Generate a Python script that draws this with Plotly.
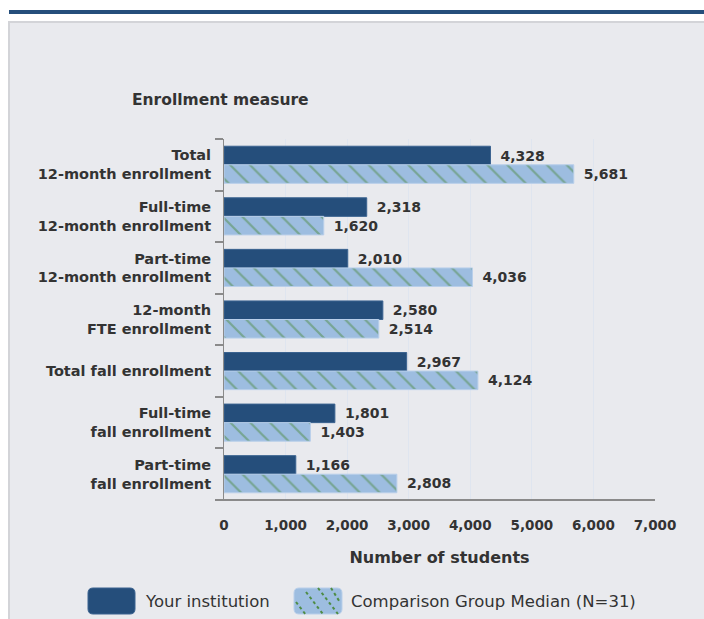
import plotly.graph_objects as go

# data
categories = [
    'Total<br>12-month enrollment',
    'Full-time<br>12-month enrollment',
    'Part-time<br>12-month enrollment',
    '12-month<br>FTE enrollment',
    'Total fall enrollment',
    'Full-time<br>fall enrollment',
    'Part-time<br>fall enrollment',
]
your_institution = [4328, 2318, 2010, 2580, 2967, 1801, 1166]
comparison_median = [5681, 1620, 4036, 2514, 4124, 1403, 2808]
x_ticks = [0, 1000, 2000, 3000, 4000, 5000, 6000, 7000]
series_names = ['Your institution', 'Comparison Group Median (N=31)']

FONT = "DejaVu Sans, Arial, sans-serif"
TXT = '#333333'
DARK = '#254e7b'
LIGHT = '#9dbde0'
GREEN = '#4f8c45'

# plot area in pixels: x 224..655, y 139..500
L, R, T, B = 224, 655, 139, 500


def px(x):
    return (x - L) / (R - L)


def py(y):
    return (B - y) / (B - T)


fig = go.Figure()

fig.add_trace(go.Bar(
    y=categories,
    x=your_institution,
    orientation='h',
    name=series_names[0],
    marker=dict(color=DARK, line=dict(color='#3b6390', width=1)),
    texttemplate='\u2002%{x:,}',
    textposition='outside',
    cliponaxis=False,
    textfont=dict(family=FONT, size=14, color=TXT, weight='bold'),
    showlegend=False,
))

fig.add_trace(go.Bar(
    y=categories,
    x=comparison_median,
    orientation='h',
    name=series_names[1],
    marker=dict(
        color=LIGHT,
        line=dict(color='#b9cfea', width=1),
        pattern=dict(shape='\\', fgcolor=GREEN, bgcolor=LIGHT,
                     size=14, solidity=0.16, fillmode='overlay'),
    ),
    texttemplate='\u2002%{x:,}',
    textposition='outside',
    cliponaxis=False,
    textfont=dict(family=FONT, size=14, color=TXT, weight='bold'),
    showlegend=False,
))

# panel background and top band
fig.add_shape(type='rect', xref='paper', yref='paper',
              x0=px(9), x1=px(712), y0=py(630), y1=py(22),
              fillcolor='#e9eaee', line=dict(color='#d3d4d8', width=2), layer='below')
fig.add_shape(type='rect', xref='paper', yref='paper',
              x0=px(9), x1=px(712), y0=py(14), y1=py(10),
              fillcolor=DARK, line=dict(width=0), layer='below')
# x axis baseline extends a little left of the plot
fig.add_shape(type='line', xref='paper', yref='paper',
              x0=px(215), x1=px(655), y0=0, y1=0,
              line=dict(color='#8a8a8a', width=2))


def rounded_rect(x0, y0, x1, y1, r):
    return (f"M{px(x0 + r)},{py(y0)} L{px(x1 - r)},{py(y0)} "
            f"Q{px(x1)},{py(y0)} {px(x1)},{py(y0 + r)} L{px(x1)},{py(y1 - r)} "
            f"Q{px(x1)},{py(y1)} {px(x1 - r)},{py(y1)} L{px(x0 + r)},{py(y1)} "
            f"Q{px(x0)},{py(y1)} {px(x0)},{py(y1 - r)} L{px(x0)},{py(y0 + r)} "
            f"Q{px(x0)},{py(y0)} {px(x0 + r)},{py(y0)} Z")


# custom legend with large rounded swatches
fig.add_shape(type='path', xref='paper', yref='paper',
              path=rounded_rect(88, 588, 135, 614, 5),
              fillcolor=DARK, line=dict(color='#3b6390', width=1))
fig.add_shape(type='path', xref='paper', yref='paper',
              path=rounded_rect(294, 588, 342, 614, 5),
              fillcolor=LIGHT, line=dict(color='#b9cfea', width=1))
for a, b in [(296, 602), (306, 592), (318, 588), (331, 588)]:
    y_end = min(614, 588 + (342 - a) * 1.3) if b == 588 else 614
    x_end = a + (y_end - b) / 1.3
    fig.add_shape(type='line', xref='paper', yref='paper',
                  x0=px(a), y0=py(b), x1=px(min(x_end, 340)), y1=py(y_end),
                  line=dict(color=GREEN, width=2, dash='dot'))

fig.add_annotation(text=series_names[0], xref='paper', yref='paper',
                   x=px(143), y=py(601), xanchor='left', yanchor='middle',
                   showarrow=False, font=dict(family=FONT, size=16.5, color=TXT))
fig.add_annotation(text=series_names[1], xref='paper', yref='paper',
                   x=px(349), y=py(601), xanchor='left', yanchor='middle',
                   showarrow=False, font=dict(family=FONT, size=16.5, color=TXT))

fig.update_layout(
    width=704,
    height=619,
    margin=dict(l=L, r=704 - R, t=T, b=619 - B),
    paper_bgcolor='white',
    plot_bgcolor='#f4f4f4',
    barmode='group',
    bargap=0.28,
    bargroupgap=0,
    font=dict(family=FONT, color=TXT),
    title=dict(
        text='<b>Enrollment measure</b>',
        x=132 / 704, xanchor='left', xref='container',
        y=1 - 100 / 619, yanchor='middle', yref='container',
        font=dict(family=FONT, size=15.5, color=TXT),
    ),
    xaxis=dict(
        range=[0, 7000],
        tickvals=x_ticks,
        tickformat=',',
        tickfont=dict(family=FONT, size=13.5, color=TXT, weight='bold'),
        ticks='',
        ticklabelstandoff=15,
        showgrid=True,
        gridcolor='#dfe5ef',
        gridwidth=1,
        zeroline=False,
        showline=False,
        title=dict(text='<b>Number of students</b>', standoff=20,
                   font=dict(family=FONT, size=16, color=TXT)),
    ),
    yaxis=dict(
        autorange='reversed',
        tickfont=dict(family=FONT, size=14.5, color=TXT, weight='bold'),
        ticks='outside',
        tickson='boundaries',
        ticklen=8,
        tickcolor='#8a8a8a',
        tickwidth=2,
        ticklabelstandoff=9,
        showline=True,
        linecolor='#8a8a8a',
        linewidth=1,
        showgrid=False,
        zeroline=False,
    ),
)

fig.write_html("out.html", config={'displayModeBar': False},
               post_script="document.body.style.margin='0';")
